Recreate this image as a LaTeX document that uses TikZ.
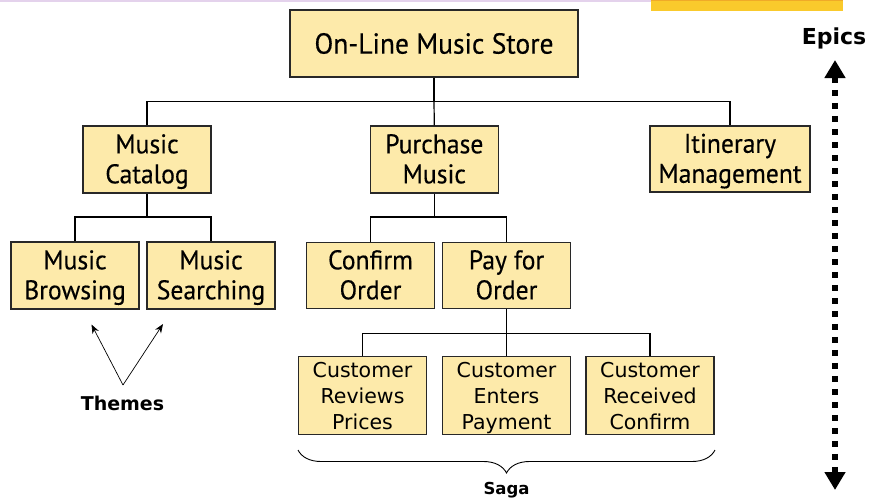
\documentclass[tikz,border=0pt]{standalone}
\usepackage{fontspec}
\setmainfont{PT Sans}[FakeStretch=0.95,FakeBold=0.3]
\newfontfamily\vfont{DejaVu Sans}
\usetikzlibrary{arrows.meta,decorations.pathreplacing}

\definecolor{boxfill}{RGB}{253,234,170}
\definecolor{boxline}{RGB}{40,40,40}
\definecolor{barorange}{RGB}{250,202,44}
\definecolor{baredge}{RGB}{240,170,40}
\definecolor{lavender}{RGB}{228,210,236}

% line struts giving every box the same baselines
\newcommand\sTop{\rule{0pt}{24.6pt}}
\newcommand\sBot{\rule[-7pt]{0pt}{7pt}}
\newcommand\tTop{\rule{0pt}{20.6pt}}
\newcommand\tBot{\rule[-5pt]{0pt}{5pt}}

\tikzset{
  story/.style={draw=boxline, line width=1.3pt, fill=boxfill, align=center,
    inner sep=0pt, font=\fontsize{27}{30}\selectfont},
  task/.style={draw=boxline, line width=1.3pt, fill=boxfill, align=center,
    inner sep=0pt, minimum width=128pt, minimum height=74pt,
    font=\vfont\fontsize{20.5}{26}\selectfont},
  tree/.style={line width=1.2pt, draw=black},
  label/.style={font=\vfont\bfseries\fontsize{19}{22}\selectfont},
}

\begin{document}
\begin{tikzpicture}[x=1pt,y=-1pt]
  \useasboundingbox (0,0) rectangle (880,501);

  % header strips
  \fill[lavender] (0,0) rectangle (651,1.6);
  \fill[barorange] (651,0) rectangle (843,11);
  \fill[baredge] (651,0) rectangle (843,1);

  % epic level
  \node[story, font=\fontsize{29}{32}\selectfont, minimum width=288pt, minimum height=67pt] (root) at (434,43.5) {On-Line Music Store};

  % feature level
  \node[story, minimum width=128pt, minimum height=67pt] (mc) at (147,159.5) {\sTop Music\\Catalog\sBot};
  \node[story, minimum width=128pt, minimum height=67pt] (pm) at (434.3,159.5) {\sTop Purchase\\Music\sBot};
  \node[story, minimum width=160pt, minimum height=66pt] (im) at (730,159) {\sTop Itinerary\\Management\sBot};

  % themes
  \node[story, minimum width=128pt, minimum height=67pt] (mb) at (75,275.5) {\sTop Music\\Browsing\sBot};
  \node[story, minimum width=128pt, minimum height=67pt] (ms) at (211,275.5) {\sTop Music\\Searching\sBot};
  \node[story, minimum width=128pt, minimum height=66pt] (co) at (370.5,275.5) {\sTop Confirm\\Order\sBot};
  \node[story, minimum width=128pt, minimum height=66pt] (po) at (506.5,275.5) {\sTop Pay for\\Order\sBot};

  % saga steps
  \node[task] (c1) at (362.5,395.5) {\tTop Customer\\Reviews\\Prices\tBot};
  \node[task] (c2) at (506.5,395.5) {\tTop Customer\\Enters\\Payment\tBot};
  \node[task] (c3) at (650,395.5) {\tTop Customer\\Received\\Confirm\tBot};

  % tree connectors
  \coordinate (b1) at (434,101.5);
  \draw[tree] (root.south) -- (b1);
  \draw[tree] (mc.north) |- (b1) -| (im.north);
  \draw[tree] (b1) -- (pm.north);

  \coordinate (b2) at (147,217);
  \draw[tree] (mc.south) -- (b2);
  \draw[tree] (mb.north) |- (b2) -| (ms.north);

  \coordinate (b3) at (434.3,217);
  \draw[tree] (pm.south) -- (b3);
  \draw[tree] (co.north) |- (b3) -| (po.north);

  \coordinate (b4) at (506.5,333.3);
  \draw[tree] (po.south) -- (b4);
  \draw[tree] (c1.north) |- (b4) -| (c3.north);
  \draw[tree] (b4) -- (c2.north);

  % themes annotation
  \node[label] (themes) at (122.5,403.5) {Themes};
  \coordinate (tv) at (123,385);
  \draw[line width=0.7pt, -{Stealth[length=9pt,width=7pt]}] (tv) -- (91.5,324.5);
  \draw[line width=0.7pt, -{Stealth[length=9pt,width=7pt]}] (tv) -- (163,324);

  % saga brace
  \coordinate (sg1) at (298,450);
  \coordinate (sg2) at (715,450);
  \draw[line width=0.9pt, decorate, decoration={brace, mirror, amplitude=23pt}] (sg1) -- (sg2);
  \node[label, font=\vfont\bfseries\fontsize{16.5}{19}\selectfont] (saga) at (506.5,490) {Saga};

  % epics scale
  \node[label, font=\vfont\bfseries\fontsize{22}{25}\selectfont] (epics) at (834,38.5) {Epics};
  \coordinate (e1) at (835,60);
  \coordinate (e2) at (835,490);
  \draw[line width=6pt, dash pattern=on 6pt off 7pt,
        {Triangle[width=20pt,length=18pt]}-{Triangle[width=20pt,length=18pt]}] (e1) -- (e2);
\end{tikzpicture}
\end{document}
